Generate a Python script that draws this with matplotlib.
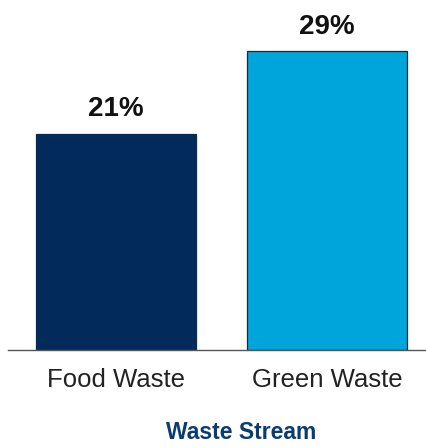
import matplotlib
matplotlib.use("Agg")
import matplotlib.pyplot as plt

categories = ["Food Waste", "Green Waste"]
values = [21, 29]
value_labels = ["21%", "29%"]
x_title = "Waste Stream"

bar_colors = ["#022b5b", "#00a5dc"]
title_color = "#0b3c6f"

W, H, DPI = 427, 448, 100
fig = plt.figure(figsize=(W / DPI, H / DPI), dpi=DPI)
plt.rcParams["font.family"] = ["Liberation Sans", "DejaVu Sans"]

ax_left, ax_right, ax_bottom_px = 8, 427, 350
ax = fig.add_axes([ax_left / W, (H - ax_bottom_px) / H, (ax_right - ax_left) / W, ax_bottom_px / H])

pos = list(range(len(categories)))
ax.bar(pos, values, width=0.76, color=bar_colors, edgecolor=["#022b5b", "#1b2a30"], linewidth=0.9, zorder=2)

for p, v, lab in zip(pos, values, value_labels):
    ax.annotate(lab, (p, v), xytext=(0, 8.5), textcoords="offset points",
                ha="center", va="bottom", fontsize=20, fontweight="bold", color="#111111")

ax.set_xlim(-0.512, 1.474)
ax.set_ylim(0, 34)
ax.set_xticks(pos)
ax.set_xticklabels(categories, fontsize=18.5, color="#222222")
ax.tick_params(axis="x", length=0, pad=13)
ax.set_yticks([])
for s in ["top", "right", "left"]:
    ax.spines[s].set_visible(False)
ax.spines["bottom"].set_color("#555555")
ax.spines["bottom"].set_linewidth(1.0)

fig.text(241 / W, 1 - 439 / H, x_title, ha="center", va="baseline",
         fontsize=16.5, fontweight="bold", color=title_color)

fig.savefig("out.png", dpi=DPI)
